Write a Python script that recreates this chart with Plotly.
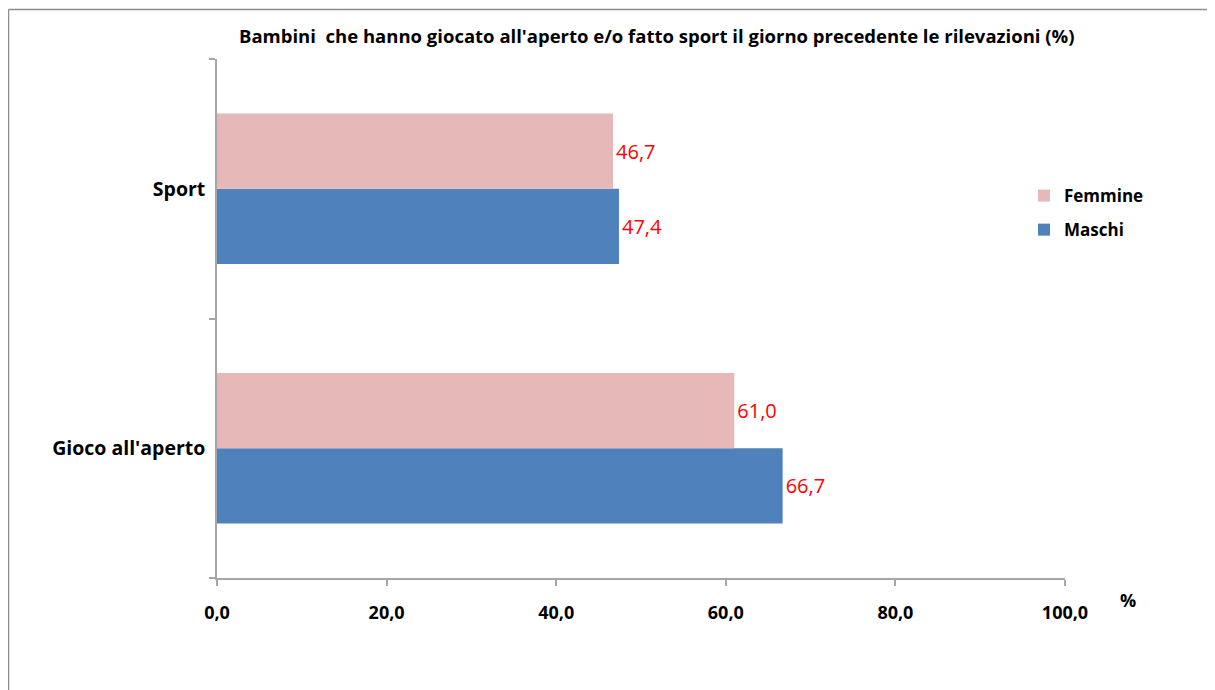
import plotly.graph_objects as go

categories = ["Gioco all'aperto", "Sport"]
maschi = [66.7, 47.4]
femmine = [61.0, 46.7]
x_ticks = [0, 20, 40, 60, 80, 100]

FONT = "Open Sans"
W, H = 1215, 690
OFF = 8  # page body margin
L, R, T, B = 217 - OFF, 1065 - OFF, 59 - OFF, 578 - OFF  # plot area in px

fig = go.Figure()
fig.add_trace(go.Bar(
    y=categories, x=maschi, name="Maschi", orientation="h",
    marker=dict(color="#4F81BD", line=dict(width=0)),
    texttemplate="%{x:.1f}", textposition="outside",
    textfont=dict(color="#FF0000", size=20, family=FONT),
    cliponaxis=False, legendgroup="m", legendrank=2,
))
fig.add_trace(go.Bar(
    y=categories, x=femmine, name="Femmine", orientation="h",
    marker=dict(color="#E6B9B8", line=dict(width=0)),
    texttemplate="%{x:.1f}", textposition="outside",
    textfont=dict(color="#FF0000", size=20, family=FONT),
    cliponaxis=False, legendgroup="f", legendrank=1,
))

pw = R - L
ph = B - T


def px_x(x):
    return (x - OFF - L) / pw


def px_y(y):
    return (B - (y - OFF)) / ph


fig.update_layout(
    width=W, height=H,
    margin=dict(l=L, r=W - R, t=T, b=H - B, autoexpand=False),
    paper_bgcolor="white", plot_bgcolor="white",
    separators=",.",
    barmode="group", bargap=0.42, bargroupgap=0,
    font=dict(family=FONT, color="black"),
    showlegend=True,
    legend=dict(
        x=px_x(1024), y=px_y(178), xanchor="left", yanchor="top",
        traceorder="grouped", tracegroupgap=9,
        font=dict(size=17, family=FONT, weight="bold"),
        itemwidth=30, bgcolor="rgba(0,0,0,0)",
    ),
    xaxis=dict(
        range=[0, 100], tickvals=x_ticks, tickformat=".1f",
        showgrid=False, zeroline=False,
        showline=True, linecolor="#A6A6A6", linewidth=1.5,
        ticks="outside", ticklen=6, tickcolor="#A6A6A6", tickwidth=1.5,
        tickfont=dict(size=18, family=FONT, weight="bold"),
        ticklabelstandoff=12,
    ),
    yaxis=dict(
        type="category", categoryorder="array", categoryarray=categories,
        showgrid=False, zeroline=False,
        showline=True, linecolor="#A6A6A6", linewidth=1.5,
        ticks="outside", ticklen=6, tickcolor="#A6A6A6", tickwidth=1.5,
        tickson="boundaries",
        tickfont=dict(size=19.5, family=FONT, weight="bold"),
        ticklabelstandoff=6,
    ),
    annotations=[
        dict(text="Bambini  che hanno giocato all'aperto e/o fatto sport il giorno precedente le rilevazioni (%)",
             xref="paper", yref="paper", x=px_x(657), y=px_y(35),
             xanchor="center", yanchor="middle", showarrow=False,
             font=dict(size=18.5, family=FONT, weight="bold")),
        dict(text="%", xref="paper", yref="paper", x=px_x(1128), y=px_y(600),
             xanchor="center", yanchor="middle", showarrow=False,
             font=dict(size=18, family=FONT, weight="bold")),
    ],
    shapes=[
        dict(type="line", xref="paper", yref="paper",
             x0=px_x(8.5), x1=px_x(1216), y0=px_y(9.5), y1=px_y(9.5),
             line=dict(color="#8C8C8C", width=1.5)),
        dict(type="line", xref="paper", yref="paper",
             x0=px_x(8.5), x1=px_x(8.5), y0=px_y(9.5), y1=px_y(700),
             line=dict(color="#8C8C8C", width=1.5)),
    ],
)

fig.write_html("out.html")
